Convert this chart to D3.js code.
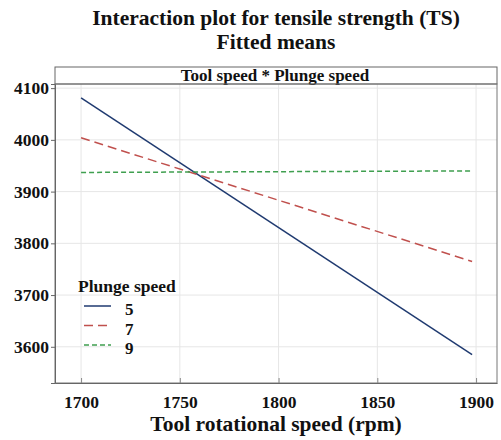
<!DOCTYPE html>
<html>
<head>
<meta charset="utf-8">
<script src="https://cdn.jsdelivr.net/npm/d3@7"></script>
<style>
body { margin: 0; background: #fff; }
text { font-family: "Liberation Serif", "Times New Roman", serif; font-weight: bold; fill: #111; }
</style>
</head>
<body>
<svg width="501" height="440"></svg>
<script>
var toolSpeed = [1700, 1898];
var plunge5 = [4081, 3585];
var plunge7 = [4004, 3765];
var plunge9 = [3937, 3940];
var seriesNames = ['5', '7', '9'];
var xTicks = [1700, 1750, 1800, 1850, 1900];
var yTicks = [3600, 3700, 3800, 3900, 4000, 4100];

var series = [
    {name: seriesNames[0], values: plunge5, color: '#1f3a70', dash: null},
    {name: seriesNames[1], values: plunge7, color: '#c0504d', dash: '9,5'},
    {name: seriesNames[2], values: plunge9, color: '#3f9f4f', dash: '5,3'}
];

var svg = d3.select('svg');

var plotLeft = 55, plotRight = 497, plotTop = 84, plotBottom = 383;

var x = d3.scaleLinear().domain([1686.8, 1910.6]).range([plotLeft, plotRight]);
var y = d3.scaleLinear().domain([3530, 4108]).range([plotBottom, plotTop]);

// titles
svg.append('text').attr('x', 276).attr('y', 25).attr('text-anchor', 'middle')
    .attr('font-size', 21.5).text('Interaction plot for tensile strength (TS)');
svg.append('text').attr('x', 276).attr('y', 49).attr('text-anchor', 'middle')
    .attr('font-size', 21.5).text('Fitted means');

// grid
svg.append('g').selectAll('line').data(yTicks).enter().append('line')
    .attr('x1', plotLeft).attr('x2', plotRight)
    .attr('y1', function(d){ return y(d); }).attr('y2', function(d){ return y(d); })
    .attr('stroke', '#e6e6e6');
svg.append('g').selectAll('line').data(xTicks).enter().append('line')
    .attr('y1', plotTop).attr('y2', plotBottom)
    .attr('x1', function(d){ return x(d); }).attr('x2', function(d){ return x(d); })
    .attr('stroke', '#e6e6e6');

// header strip
svg.append('rect').attr('x', plotLeft).attr('y', 67).attr('width', plotRight - plotLeft).attr('height', plotTop - 67)
    .attr('fill', '#fff').attr('stroke', '#666');
svg.append('text').attr('x', (plotLeft + plotRight) / 2 - 1).attr('y', 81).attr('text-anchor', 'middle')
    .attr('font-size', 17).text('Tool speed * Plunge speed');

// frame
svg.append('rect').attr('x', plotLeft).attr('y', plotTop).attr('width', plotRight - plotLeft).attr('height', plotBottom - plotTop)
    .attr('fill', 'none').attr('stroke', '#777');

// axes
var yAxis = svg.append('g').attr('transform', 'translate(' + plotLeft + ',0)')
    .call(d3.axisLeft(y).tickValues(yTicks).tickSize(4).tickPadding(2).tickFormat(d3.format('d')));
yAxis.select('.domain').attr('stroke', '#666');
yAxis.selectAll('.tick line').attr('stroke', '#666');
yAxis.selectAll('text').attr('font-size', 17.5).attr('fill', '#111');

var xAxis = svg.append('g').attr('transform', 'translate(0,' + plotBottom + ')')
    .call(d3.axisBottom(x).tickValues(xTicks).tickSizeInner(-5).tickSizeOuter(0).tickPadding(13).tickFormat(d3.format('d')));
xAxis.select('.domain').attr('stroke', '#666');
xAxis.selectAll('.tick line').attr('stroke', '#888');
xAxis.selectAll('text').attr('font-size', 17.5).attr('fill', '#111');

svg.append('text').attr('x', 276).attr('y', 431).attr('text-anchor', 'middle')
    .attr('font-size', 21.5).text('Tool rotational speed (rpm)');

// lines
var line = d3.line()
    .x(function(d, i){ return x(toolSpeed[i]); })
    .y(function(d){ return y(d); });

svg.append('g').selectAll('path').data(series).enter().append('path')
    .attr('d', function(s){ return line(s.values); })
    .attr('fill', 'none')
    .attr('stroke', function(s){ return s.color; })
    .attr('stroke-width', 1.5)
    .attr('stroke-dasharray', function(s){ return s.dash; });

// legend
var legend = svg.append('g');
legend.append('text').attr('x', 78).attr('y', 292).attr('font-size', 17.5).text('Plunge speed');
var items = legend.selectAll('g.item').data(series).enter().append('g')
    .attr('transform', function(d, i){ return 'translate(84,' + (306 + i * 19.5) + ')'; });
items.append('line').attr('x1', 0).attr('x2', 27)
    .attr('stroke', function(s){ return s.color; })
    .attr('stroke-width', 1.5)
    .attr('stroke-dasharray', function(s){ return s.dash; });
items.append('text').attr('x', 41).attr('y', 9).attr('font-size', 17).text(function(s){ return s.name; });
</script>
</body>
</html>
